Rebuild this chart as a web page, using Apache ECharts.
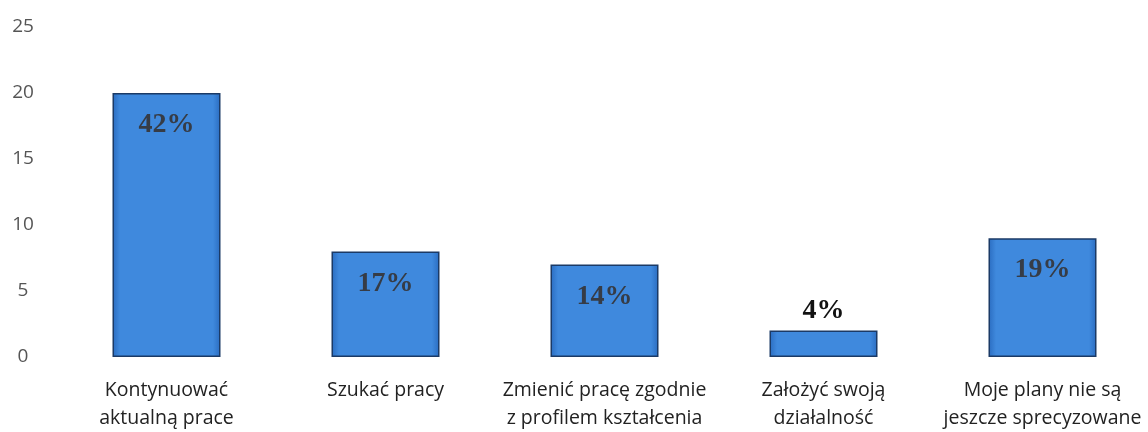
<!DOCTYPE html>
<html>
<head>
<meta charset="utf-8">
<script src="https://cdn.jsdelivr.net/npm/echarts@6/dist/echarts.min.js"></script>
<style>
    html, body { margin: 0; padding: 0; background: #fff; }
</style>
</head>
<body>
<div id="plans_chart" style="width:1148px;height:432px;"></div>
<script type="text/javascript">
    // plany zawodowe - kategorie, liczba osob, procenty
    var planNames = [
        'Kontynuować\naktualną prace',
        'Szukać pracy',
        'Zmienić pracę zgodnie\nz profilem kształcenia',
        'Założyć swoją\ndziałalność',
        'Moje plany nie są\njeszcze sprecyzowane'
    ];
    var planNums = [20, 8, 7, 2, 9];
    var planPercents = ['42%', '17%', '14%', '4%', '19%'];
    var yTicks = [0, 5, 10, 15, 20, 25];

    function initPlansChart(){
        var chart = echarts.init(document.getElementById('plans_chart'));

        var barColor = new echarts.graphic.LinearGradient(0, 0, 1, 0, [
            {offset: 0, color: '#2a6cc0'},
            {offset: 0.07, color: '#3f89dd'},
            {offset: 0.93, color: '#3f89dd'},
            {offset: 1, color: '#2a6cc0'}
        ]);

        var barData = [];
        for(var i = 0; i < planNums.length; i++){
            var small = planNums[i] < 3;
            barData.push({
                value: planNums[i],
                label: {
                    position: small ? 'top' : 'insideTop',
                    distance: small ? 6 : 18,
                    color: small ? '#111' : '#363c46'
                }
            });
        }

        var options = {
            animation: false,
            grid: {
                left: 57,
                right: -4,
                top: 27,
                bottom: 75,
                outerBoundsMode: 'none'
            },
            xAxis: {
                type: 'category',
                data: planNames,
                axisLine: {show: false},
                axisTick: {show: false},
                axisLabel: {
                    interval: 0,
                    margin: 19,
                    fontFamily: 'Open Sans',
                    fontSize: 19.5,
                    lineHeight: 28,
                    color: '#222'
                }
            },
            yAxis: {
                type: 'value',
                min: yTicks[0],
                max: yTicks[yTicks.length - 1],
                interval: 5,
                splitLine: {show: false},
                axisLine: {show: false},
                axisTick: {show: false},
                axisLabel: {
                    margin: 34,
                    align: 'center',
                    fontFamily: 'Open Sans',
                    fontSize: 19,
                    color: '#555'
                }
            },
            series: [{
                type: 'bar',
                barWidth: 108,
                data: barData,
                itemStyle: {
                    color: barColor,
                    borderColor: '#1b3a66',
                    borderWidth: 1.5
                },
                label: {
                    show: true,
                    fontFamily: 'Liberation Serif',
                    fontWeight: 'bold',
                    fontSize: 28,
                    formatter: function(p){
                        return planPercents[p.dataIndex];
                    }
                }
            }]
        };
        chart.setOption(options);
    }

    initPlansChart();
</script>
</body>
</html>
